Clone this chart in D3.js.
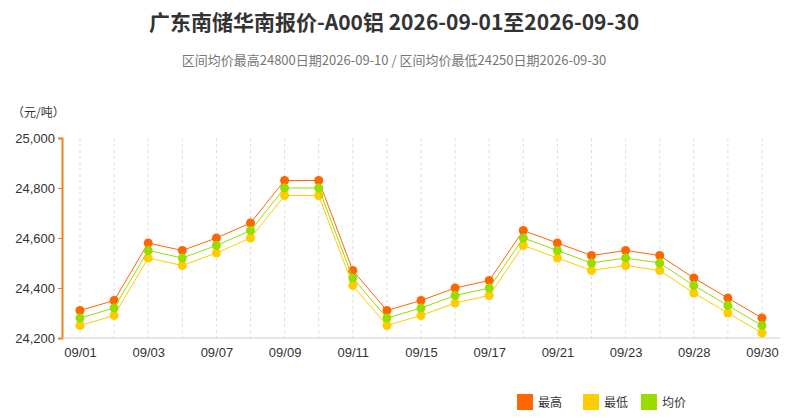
<!DOCTYPE html><html><head><meta charset="utf-8">
<script src="https://cdn.jsdelivr.net/npm/d3@7"></script>
<style>body{margin:0;background:#fff;font-family:"Noto Sans CJK SC","Noto Sans",sans-serif}</style></head><body>
<svg id="c" width="789" height="418"></svg>
<script>
const dates=["09/01","09/02","09/03","09/04","09/07","09/08","09/09","09/10","09/11","09/14","09/15","09/16","09/17","09/18","09/21","09/22","09/23","09/24","09/28","09/29","09/30"];
const high=[24310,24350,24580,24550,24600,24660,24830,24830,24470,24310,24350,24400,24430,24630,24580,24530,24550,24530,24440,24360,24280];
const low=[24250,24290,24520,24490,24540,24600,24770,24770,24410,24250,24290,24340,24370,24570,24520,24470,24490,24470,24380,24300,24220];
const avg=[24280,24320,24550,24520,24570,24630,24800,24800,24440,24280,24320,24370,24400,24600,24550,24500,24520,24500,24410,24330,24250];
const yTicks=[24200,24400,24600,24800,25000];
const svg=d3.select("#c");
const x=d3.scalePoint().domain(dates).range([80,762]);
const y=d3.scaleLinear().domain([24200,25000]).range([338,138]);
svg.append("text").attr("x",394).attr("y",30).attr("text-anchor","middle").attr("font-size",21).attr("font-weight","bold").attr("fill","#333").text("广东南储华南报价-A00铝 2026-09-01至2026-09-30");
svg.append("text").attr("x",394).attr("y",65).attr("text-anchor","middle").attr("font-size",13).attr("fill","#777").text("区间均价最高24800日期2026-09-10 / 区间均价最低24250日期2026-09-30");
svg.append("text").attr("x",12).attr("y",117).attr("font-size",12).attr("fill","#333").text("（元/吨）");
dates.forEach(d=>svg.append("line").attr("x1",x(d)).attr("x2",x(d)).attr("y1",138).attr("y2",338).attr("stroke","#ddd").attr("stroke-dasharray","3,3"));
const ya=svg.append("g").attr("transform","translate(62,0)").call(d3.axisLeft(y).tickValues(yTicks).tickFormat(d3.format(",")).tickSize(4));
ya.select(".domain").attr("stroke","#f07f22").attr("stroke-width",2);ya.selectAll("line").attr("stroke","#f07f22");
ya.selectAll("text").attr("font-size",13).attr("fill","#333");
const xa=svg.append("g").attr("transform","translate(0,338)").call(d3.axisBottom(x).tickValues(dates.filter((d,i)=>i%2==0)).tickSize(0));
xa.select(".domain").attr("stroke","#ccc").attr("d","M62,0H780");
xa.selectAll("text").attr("font-size",13).attr("fill","#333").attr("dy","1.2em");
const series=[[high,"#ff6600","最高"],[low,"#ffcc00","最低"],[avg,"#99dd00","均价"]];
series.forEach(([v,c])=>{
 svg.append("path").attr("d",d3.line().x((d,i)=>x(dates[i])).y(d=>y(d))(v)).attr("fill","none").attr("stroke",c).attr("stroke-width",1);
 svg.selectAll(null).data(v).join("circle").attr("cx",(d,i)=>x(dates[i])).attr("cy",d=>y(d)).attr("r",4.5).attr("fill",c);
});
const lx=[517,583,641];
series.forEach(([v,c,n],i)=>{
 svg.append("rect").attr("x",lx[i]).attr("y",394).attr("width",16).attr("height",16).attr("fill",c);
 svg.append("text").attr("x",lx[i]+21).attr("y",407).attr("font-size",12).attr("fill","#333").text(n);
});
</script></body></html>
